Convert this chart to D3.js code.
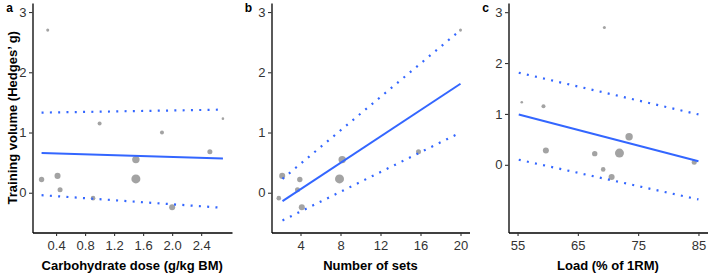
<!DOCTYPE html>
<html>
<head>
<meta charset="utf-8">
<script src="https://cdn.jsdelivr.net/npm/d3@7"></script>
<style>
  body { margin: 0; background: #fff; }
  svg text { font-family: "Liberation Sans", Arial, sans-serif; }
</style>
</head>
<body>
<div id="chart"></div>
<script>
// one value per study; null = moderator not reported
const hedgesG = [2.70, 0.22, 0.28, 0.05, -0.09, 1.15, 0.55, 0.23, 1.00, -0.24, 0.68, 1.23];
const studyWeight = [11, 34, 43, 30, 25, 19, 65, 96, 19, 43, 30, 8];
const carbDose = [0.285, 0.2, 0.42, 0.455, 0.91, 1.0, 1.5, 1.5, 1.86, 2.0, 2.52, 2.70];
const numSets = [20, 3.93, 2.17, 3.7, 1.83, null, 8.17, 7.9, null, 4.13, 15.8, null];
const loadPct = [69.4, 67.8, 59.7, 84.3, 69.2, 59.3, 73.5, 71.9, null, 70.6, null, 55.7];

// meta-regression fits: [start, end]
const fitCarbX = [0.2, 2.7], fitCarbY = [0.66, 0.57], fitCarbLo = [-0.04, -0.25], fitCarbHi = [1.33, 1.38];
const fitSetsX = [2.2, 20], fitSetsY = [-0.14, 1.81], fitSetsLo = [-0.46, 1.0], fitSetsHi = [0.23, 2.7];
const fitLoadX = [55.2, 85], fitLoadY = [0.99, 0.07], fitLoadLo = [0.10, -0.68], fitLoadHi = [1.81, 0.99];

const carbTicks = [0.4, 0.8, 1.2, 1.6, 2.0, 2.4];
const setsTicks = [4, 8, 12, 16, 20];
const loadTicks = [55, 65, 75, 85];
const yTicks = [0, 1, 2, 3];

const width = 709, height = 275;
const svg = d3.select("#chart").append("svg")
    .attr("width", width)
    .attr("height", height);

const rScale = d3.scaleSqrt().domain([0, 100]).range([0, 4.6]);
const blue = "#3366FF";

const panels = [
    { letter: "a", left: 32.5, right: 232, xDomain: [0.075, 2.825], yDomain: [-0.66, 3.15],
      xs: carbDose, xTicks: carbTicks, fmt: d3.format(".1f"), title: "Carbohydrate dose (g/kg BM)",
      fx: fitCarbX, fy: fitCarbY, lo: fitCarbLo, hi: fitCarbHi, yTitle: true },
    { letter: "b", left: 271.5, right: 469.5, xDomain: [1.1, 20.9], yDomain: [-0.66, 3.15],
      xs: numSets, xTicks: setsTicks, fmt: d3.format("d"), title: "Number of sets",
      fx: fitSetsX, fy: fitSetsY, lo: fitSetsLo, hi: fitSetsHi },
    { letter: "c", left: 508.5, right: 707.5, xDomain: [53.5, 86.5], yDomain: [-1.33, 3.18],
      xs: loadPct, xTicks: loadTicks, fmt: d3.format("d"), title: "Load (% of 1RM)",
      fx: fitLoadX, fy: fitLoadY, lo: fitLoadLo, hi: fitLoadHi },
];

const plotTop = 3, plotBottom = 232.5;

panels.forEach((p) => {
    const x = d3.scaleLinear().domain(p.xDomain).range([p.left, p.right]);
    const y = d3.scaleLinear().domain(p.yDomain).range([plotBottom, plotTop]);
    const g = svg.append("g");

    // points
    const pts = hedgesG.map((v, i) => ({ x: p.xs[i], y: v, w: studyWeight[i] }))
        .filter((d) => d.x !== null)
        .sort((a, b) => b.w - a.w);
    g.selectAll(".pt").data(pts).join("circle")
        .attr("class", "pt")
        .attr("cx", (d) => x(d.x))
        .attr("cy", (d) => y(d.y))
        .attr("r", (d) => rScale(d.w))
        .attr("fill", "#999999")
        .attr("fill-opacity", 0.9);

    // fit + CI lines
    const seg = (ys) => d3.line().x((d, i) => x(p.fx[i])).y((d) => y(d))(ys);
    g.append("path").attr("d", seg(p.fy))
        .attr("stroke", blue).attr("stroke-width", 2).attr("fill", "none");
    [p.lo, p.hi].forEach((ys) => {
        g.append("path").attr("d", seg(ys))
            .attr("stroke", blue).attr("stroke-width", 2.2).attr("fill", "none")
            .attr("stroke-dasharray", "2 6.3");
    });

    // axes
    const xAxis = g.append("g").attr("transform", `translate(0,${plotBottom})`)
        .call(d3.axisBottom(x).tickValues(p.xTicks).tickFormat(p.fmt).tickSizeInner(3.5).tickSizeOuter(0).tickPadding(5));
    const yAxis = g.append("g").attr("transform", `translate(${p.left},0)`)
        .call(d3.axisLeft(y).tickValues(yTicks).tickFormat(d3.format("d")).tickSizeInner(3.5).tickSizeOuter(0).tickPadding(2.5));
    [xAxis, yAxis].forEach((ax) => {
        ax.select(".domain").attr("stroke", "#000").attr("stroke-width", 1.3);
        ax.selectAll(".tick line").attr("stroke", "#333").attr("stroke-width", 1.1);
        ax.selectAll(".tick text").attr("fill", "#333").attr("font-size", 13);
    });
    xAxis.selectAll(".tick text").attr("dy", "0.72em");

    g.append("text")
        .attr("x", (p.left + p.right) / 2)
        .attr("y", 270)
        .attr("text-anchor", "middle")
        .attr("font-size", 13)
        .attr("font-weight", "bold")
        .text(p.title);

    g.append("text")
        .attr("x", p.left - 23)
        .attr("y", 12)
        .attr("text-anchor", "middle")
        .attr("font-size", 12)
        .attr("font-weight", "bold")
        .text(p.letter);

    if (p.yTitle) {
        g.append("text")
            .attr("transform", `translate(17,${(plotTop + plotBottom) / 2}) rotate(-90)`)
            .attr("text-anchor", "middle")
            .attr("font-size", 13)
            .attr("font-weight", "bold")
            .text("Training volume (Hedges\u2019 g)");
    }
});
</script>
</body>
</html>
